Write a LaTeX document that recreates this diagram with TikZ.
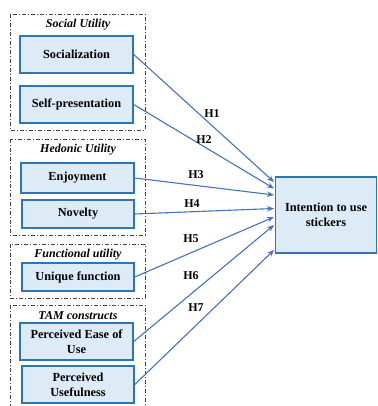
\documentclass[tikz,border=0pt]{standalone}
\usepackage{fontspec}
\setmainfont{Liberation Serif}
\usetikzlibrary{arrows.meta}
\definecolor{boxfill}{HTML}{DDEBF7}
\definecolor{boxline}{HTML}{2E75B6}
\definecolor{arrowc}{HTML}{4472C4}
\tikzset{
  box/.style={draw=boxline, line width=1.5pt, fill=boxfill, inner sep=1pt,
    font=\bfseries\fontsize{12.3}{15}\selectfont, align=center},
  grp/.style={draw=black!75, line width=0.8pt, dash pattern=on 4pt off 2pt on 1pt off 2pt},
  gtitle/.style={font=\bfseries\itshape\fontsize{12}{14}\selectfont, inner sep=0pt},
  hyp/.style={draw=arrowc, line width=1.1pt, -{Stealth[length=7pt,width=5.5pt]}},
  hlab/.style={font=\bfseries\fontsize{12}{14}\selectfont, inner sep=0pt}
}
\begin{document}
\begin{tikzpicture}[x=1pt,y=-1pt]
\useasboundingbox (0,0) rectangle (377,406);
\clip (0,0) rectangle (377,406);
% groups
\draw[grp] (10,14) rectangle (145,130);
\draw[grp] (10,139) rectangle (145,235);
\draw[grp] (10,244) rectangle (145,298);
\draw[grp] (10,305) rectangle (145,412);
\node[gtitle] (g1) at (78,25) {Social Utility};
\node[gtitle] (g2) at (78,150) {Hedonic Utility};
\node[gtitle] (g3) at (78,255) {Functional utility};
\node[gtitle] (g4) at (78,316) {TAM constructs};
% boxes
\node[box, minimum width=113pt, minimum height=37pt] (soc) at (76.5,54.5) {Socialization};
\node[box, minimum width=113pt, minimum height=37pt] (self) at (76.5,104.5) {Self-presentation};
\node[box, minimum width=113pt, minimum height=30pt] (enj) at (77.5,178) {Enjoyment};
\node[box, minimum width=112pt, minimum height=28pt] (nov) at (78,214) {Novelty};
\node[box, minimum width=112pt, minimum height=28pt] (uni) at (78,277) {Unique function};
\node[box, minimum width=113pt, minimum height=37pt] (peou) at (76.5,341.5) {Perceived Ease of\\Use};
\node[box, minimum width=112pt, minimum height=37pt] (pu) at (78,384.5) {Perceived\\Usefulness};
\node[box, minimum width=101pt, minimum height=76pt] (T) at (326,215) {Intention to use\\stickers};
% arrow ends
\coordinate (t1) at (274,182);
\coordinate (t2) at (274,188.5);
\coordinate (t3) at (274,195);
\coordinate (t4) at (274,208.5);
\coordinate (t5) at (274,217);
\coordinate (t6) at (274,225);
\coordinate (t7) at (274,250);
\draw[hyp] (soc.east) -- (t1);
\draw[hyp] (self.east) -- (t2);
\draw[hyp] (enj.east) -- (t3);
\draw[hyp] (nov.east) -- (t4);
\draw[hyp] (uni.east) -- (t5);
\draw[hyp] (peou.east) -- (t6);
\draw[hyp] (pu.east) -- (t7);
% labels
\node[hlab] (h1) at (212,114) {H1};
\node[hlab] (h2) at (204,140) {H2};
\node[hlab] (h3) at (196,175) {H3};
\node[hlab] (h4) at (192,204) {H4};
\node[hlab] (h5) at (191,239) {H5};
\node[hlab] (h6) at (191,276) {H6};
\node[hlab] (h7) at (196,308) {H7};
\end{tikzpicture}
\end{document}
